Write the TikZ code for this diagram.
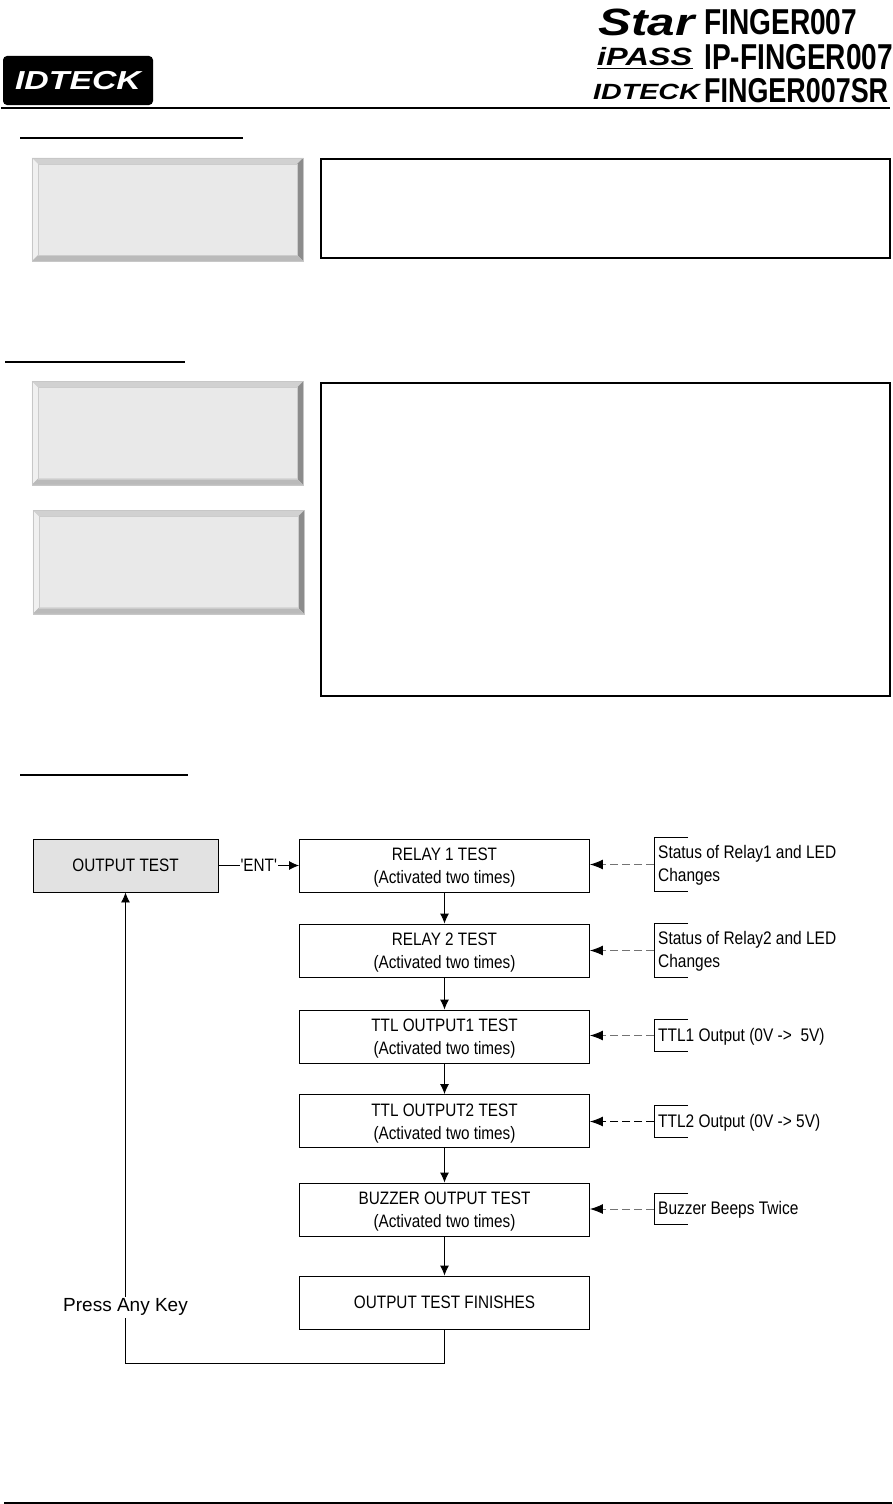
\documentclass[tikz,border=0pt]{standalone}
\usepackage{fontspec}
\usetikzlibrary{arrows.meta,positioning,calc}
\setmainfont{Liberation Sans}
\newfontfamily\flowfont[FakeStretch=0.85]{Liberation Sans}
\newfontfamily\modelfont[FakeStretch=0.78]{Liberation Sans Bold}
\newfontfamily\brandfont[FakeStretch=1.3]{Liberation Sans Bold Italic}
\definecolor{panelfill}{HTML}{E9E9E9}
\definecolor{startfill}{HTML}{E2E2E2}

\begin{document}
\begin{tikzpicture}[
  x=1pt, y=-1pt,
  flowbox/.style={draw=black, line width=0.9pt, align=center, inner sep=0pt, minimum width=290pt, minimum height=53pt, font=\flowfont\fontsize{18}{23}\selectfont},
  twoline/.style={flowbox, align=flush center, text width=288pt, execute at begin node={\rule{0pt}{17pt}}},
  startbox/.style={flowbox, fill=startfill, minimum width=185pt},
  notebox/.style={anchor=west, align=flush left, inner sep=0pt, inner xsep=4pt, text width=190pt, font=\flowfont\fontsize{18.2}{23}\selectfont, execute at begin node={\rule{0pt}{15.5pt}}},
  panel/.style={draw=black!22, fill=panelfill, inner sep=0pt, minimum width=271pt, minimum height=103pt},
  frame/.style={draw=black, line width=2pt, inner sep=0pt, minimum width=569pt},
  rule/.style={draw=black, line width=1.7pt},
  thinrule/.style={draw=black, line width=1.1pt},
  model/.style={anchor=west, inner sep=0pt, font=\modelfont\fontsize{36}{36}\selectfont},
  arr/.style={-{Latex[length=10pt,width=9pt]}, line width=0.9pt},
  feed/.style={-{Latex[length=13pt,width=10pt,color=black]}, dash pattern=on 8pt off 4pt, line width=0.9pt, draw=black!55},
  bracket/.style={draw=black, line width=0.9pt}
]
\useasboundingbox (0,0) rectangle (892,1504);

\node[fill=black, rounded corners=4pt, minimum width=150pt, minimum height=49pt, inner sep=0pt, text=white, font=\brandfont\fontsize{26}{26}\selectfont] (badge) at (78,80.5) {IDTECK};
\node[anchor=west, inner sep=0pt, font=\brandfont\fontsize{38}{38}\selectfont] (star) at (598,22) {Star};
\node[anchor=west, inner sep=0pt, font=\brandfont\fontsize{25}{25}\selectfont] (ipass) at (597,57) {iPASS};
\node[anchor=west, inner sep=0pt, font=\brandfont\fontsize{22}{22}\selectfont] (brand) at (593,92) {IDTECK};
\node[model] (star model) at (704,22) {FINGER007};
\node[model] (ipass model) at (704,57) {IP-FINGER007};
\node[model, font=\modelfont\fontsize{34.5}{36}\selectfont] (brand model) at (704,91) {FINGER007SR};
\draw[line width=1.5pt] ([yshift=-2pt]ipass.south west) -- ([yshift=-2pt]ipass.south east);

\coordinate (head a) at (1,108);
\coordinate (head b) at (890,108);
\coordinate (foot a) at (4,1503);
\coordinate (foot b) at (892,1503);
\coordinate (sec1 a) at (20,138);
\coordinate (sec1 b) at (243,138);
\coordinate (sec2 a) at (5,362);
\coordinate (sec2 b) at (185,362);
\coordinate (sec3 a) at (20,775);
\coordinate (sec3 b) at (188,775);
\draw[thinrule] (head a) -- (head b);
\draw[thinrule] (sec1 a) -- (sec1 b);
\draw[rule] (sec2 a) -- (sec2 b);
\draw[rule] (sec3 a) -- (sec3 b);
\draw[rule, line width=2.4pt] (foot a) -- (foot b);

\node[panel] (panel1) at (167.5,209.5) {};
\node[panel] (panel2) at (167.5,433) {};
\node[panel] (panel3) at (168.5,562) {};
\foreach \p in {panel1,panel2,panel3} {
  \fill[black!18] (\p.north west) -- (\p.north east) -- ($(\p.north east)+(-6,6)$) -- ($(\p.north west)+(6,6)$) -- cycle;
  \fill[black!6] (\p.north west) -- (\p.south west) -- ($(\p.south west)+(6,-6)$) -- ($(\p.north west)+(6,6)$) -- cycle;
  \fill[black!45] (\p.north east) -- (\p.south east) -- ($(\p.south east)+(-6,-6)$) -- ($(\p.north east)+(-6,6)$) -- cycle;
  \fill[black!27] (\p.south west) -- (\p.south east) -- ($(\p.south east)+(-6,-6)$) -- ($(\p.south west)+(6,-6)$) -- cycle;
  \draw[black!20] ($(\p.north west)+(6,6)$) rectangle ($(\p.south east)+(-6,-6)$);
  \draw[black!22] (\p.north west) rectangle (\p.south east);
}

\node[frame, minimum height=99pt] (frame1) at (605.5,208.5) {};
\node[frame, minimum height=313pt] (frame2) at (605.5,539.5) {};

\node[startbox] (output) at (125.5,865.5) {OUTPUT TEST};
\node[twoline] (relay1) at (444.5,865.5) {RELAY 1 TEST\\(Activated two times)};
\node[twoline] (relay2) at (444.5,950.5) {RELAY 2 TEST\\(Activated two times)};
\node[twoline] (ttl1) at (444.5,1036.5) {TTL OUTPUT1 TEST\\(Activated two times)};
\node[twoline] (ttl2) at (444.5,1121) {TTL OUTPUT2 TEST\\(Activated two times)};
\node[twoline] (buzzer) at (444.5,1209.5) {BUZZER OUTPUT TEST\\(Activated two times)};
\node[flowbox] (finish) at (444.5,1302.5) {OUTPUT TEST FINISHES};

\node[notebox, minimum height=53pt] (note1) at (654,864.5) {Status of Relay1 and LED\\Changes};
\node[notebox, minimum height=53pt] (note2) at (654,950.5) {Status of Relay2 and LED\\Changes};
\node[notebox, minimum height=31pt] (note3) at (654,1035.5) {TTL1 Output (0V ->~ 5V)};
\node[notebox, minimum height=31pt] (note4) at (654,1121.5) {TTL2 Output (0V -> 5V)};
\node[notebox, minimum height=30pt] (note5) at (654,1209) {Buzzer Beeps Twice};
\coordinate (turn) at (444.5,1363);

\draw[arr] (output) -- node[fill=white, inner sep=1pt, font=\flowfont\fontsize{18}{23}\selectfont] (ent) {'ENT'} (relay1);
\draw[arr] (relay1) -- (relay2);
\draw[arr] (relay2) -- (ttl1);
\draw[arr] (ttl1) -- (ttl2);
\draw[arr] (ttl2) -- (buzzer);
\draw[arr] (buzzer) -- (finish);
\draw[arr] (finish) -- (turn) -| node[pos=0.5595, fill=white, inner ysep=2pt, inner xsep=0pt, font=\fontsize{19}{22}\selectfont] (anykey) {Press Any Key} (output);

\foreach \n in {note1,note2,note3,note4,note5}
  \draw[bracket] ([xshift=34pt]\n.north west) -- (\n.north west) -- (\n.south west) -- ([xshift=34pt]\n.south west);
\draw[feed] (note1.west) -- (note1.west -| relay1.east);
\draw[feed] (note2.west) -- (note2.west -| relay2.east);
\draw[feed] (note3.west) -- (note3.west -| ttl1.east);
\draw[feed, draw=black] (note4.west) -- (note4.west -| ttl2.east);
\draw[feed] (note5.west) -- (note5.west -| buzzer.east);
\end{tikzpicture}
\end{document}
